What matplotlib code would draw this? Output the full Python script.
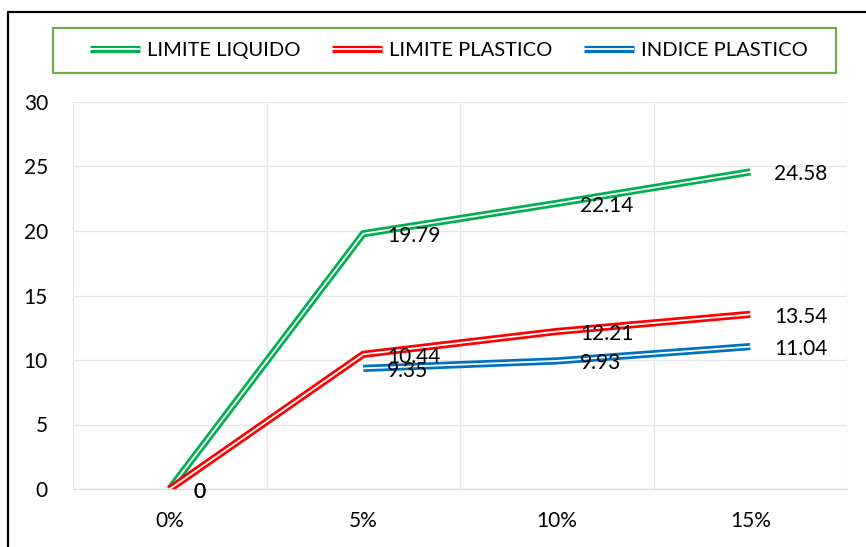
import numpy as np
import matplotlib
matplotlib.use("Agg")
import matplotlib.pyplot as plt
import matplotlib.patheffects as pe
from matplotlib.lines import Line2D
from matplotlib.patches import Rectangle

plt.rcParams['font.family'] = ['Lato', 'DejaVu Sans']

categories = ["0%", "5%", "10%", "15%"]
limite_liquido = [0, 19.79, 22.14, 24.58]
limite_plastico = [0, 10.44, 12.21, 13.54]
indice_plastico = [np.nan, 9.35, 9.93, 11.04]

series = [
    ("LIMITE LIQUIDO", limite_liquido, "#00B050"),
    ("LIMITE PLASTICO", limite_plastico, "#FF0000"),
    ("INDICE PLASTICO", indice_plastico, "#0070C0"),
]

W, H = 866, 547
fig = plt.figure(figsize=(W / 100, H / 100), dpi=100)
ax = fig.add_axes([73 / W, (H - 489) / H, (847 - 73) / W, (489 - 102) / H])

x = np.arange(len(categories))
handles = []
for name, vals, color in series:
    # double (compound) line: thick coloured stroke with a thin white core
    ln, = ax.plot(x, vals, color="white", lw=1.3, label=name,
                  solid_joinstyle="miter", solid_capstyle="butt",
                  path_effects=[pe.Stroke(linewidth=5.2, foreground=color),
                                pe.Normal()], zorder=3)
    handles.append(ln)
    for xi, v in zip(x, vals):
        if np.isnan(v):
            continue
        ax.annotate(f"{v:g}", (xi, v), xytext=(17, -1.8), textcoords="offset points",
                    ha="left", va="center", fontsize=15, color="black", zorder=4)

ax.set_xlim(-0.5, 3.5)
ax.set_ylim(0, 30)
ax.set_yticks(np.arange(0, 31, 5))
ax.set_xticks(x)
ax.set_xticklabels(categories)
ax.set_xticks(np.arange(-0.5, 3.6, 1), minor=True)
ax.tick_params(axis="both", which="both", length=0, labelsize=15, colors="black")
ax.tick_params(axis="y", pad=18)
ax.tick_params(axis="x", pad=16)
ax.grid(axis="y", which="major", color="#E6E6E6", lw=1)
ax.grid(axis="x", which="minor", color="#E6E6E6", lw=1)
ax.set_axisbelow(True)
for s in ["top", "right", "left"]:
    ax.spines[s].set_visible(False)
ax.spines["bottom"].set_color("#D9D9D9")

# legend box across the top
fig.patches.append(Rectangle((53 / W, (H - 73) / H), (836 - 53) / W, 45 / H,
                             transform=fig.transFigure, fill=False,
                             edgecolor="#70AD47", lw=1.6))
fig.legend(handles=handles, loc="center", bbox_to_anchor=(449 / W, (H - 50.5) / H),
           ncol=3, frameon=False, fontsize=14.5, handlelength=2.5,
           handletextpad=0.35, columnspacing=1.55)

# outer chart frame (left and top edges)
fig.add_artist(Line2D([8 / W, 8 / W, 1], [0, (H - 12) / H, (H - 12) / H],
                      transform=fig.transFigure, color="black", lw=1.6))

fig.savefig("out.png", dpi=100)
